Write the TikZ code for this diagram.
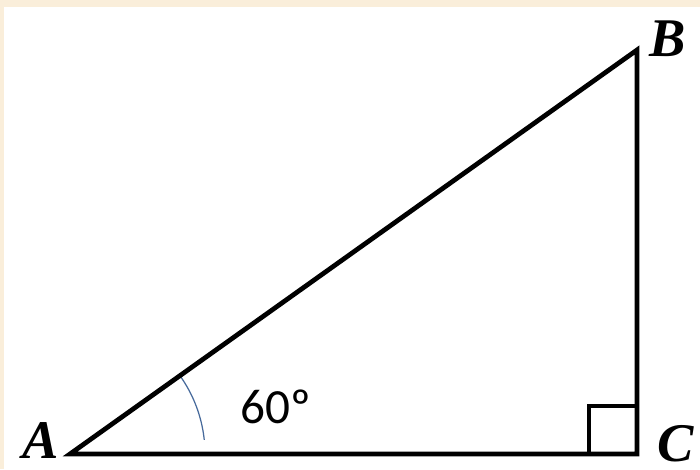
\documentclass[tikz,border=0pt]{standalone}
\usepackage{fontspec}
\usepackage{xcolor}
\usepackage{tikz}
\usetikzlibrary{calc}
\newfontfamily\vertexfont{Liberation Serif}
\newfontfamily\anglefont{Carlito}
\definecolor{framebeige}{RGB}{250,238,218}
\definecolor{arcblue}{RGB}{70,105,155}
\tikzset{
  side/.style={line width=2.7pt,draw=black,line cap=round,line join=miter},
  rightmark/.style={line width=2.2pt,draw=black},
  anglearc/.style={line width=0.7pt,draw=arcblue},
  vertexlabel/.style={font=\vertexfont\bfseries\itshape\fontsize{31}{31}\selectfont,inner sep=0pt},
  anglelabel/.style={font=\anglefont\fontsize{28}{28}\selectfont,inner sep=0pt}
}

\begin{document}
\begin{tikzpicture}
  \useasboundingbox (0,0) rectangle (14,9.38);
  \fill[white] (0,0) rectangle (14,9.38);
  \fill[framebeige] (0,9.24) rectangle (14,9.38);
  \fill[framebeige] (0,0) rectangle (0.08,9.38);

  \coordinate (A) at (1.40,0.30);
  \coordinate (C) at (12.74,0.30);
  \coordinate (B) at (12.74,8.38);

  % right angle mark
  \draw[rightmark] ($(C)+(-0.96,0)$) -- ++(0,0.96) -- ++(0.96,0);

  % angle at A
  \draw[anglearc] ($(A)+(6:2.7)$) arc[start angle=6,end angle=35.4,radius=2.7];

  \draw[side] (A) -- (C) -- (B) -- cycle;

  \node[vertexlabel] (lA) at (0.82,0.56) {A};
  \node[vertexlabel] (lB) at (13.36,8.60) {B};
  \node[vertexlabel] (lC) at (13.52,0.50) {C};
  \node[anglelabel] (ang) at (5.52,1.24) {60º};
\end{tikzpicture}
\end{document}
